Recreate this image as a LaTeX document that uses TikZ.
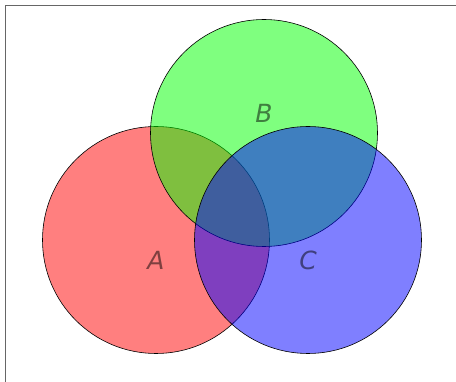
\documentclass[tikz,border=0pt]{standalone}
\usepackage{fontspec}
\setsansfont{DejaVu Sans}
\usetikzlibrary{positioning}

\begin{document}
\begin{tikzpicture}[x=1pt,y=-1pt,
  set/.style={circle,draw=black,line width=0.6pt,fill opacity=0.5,minimum size=227pt,inner sep=0pt},
  lbl/.style={font=\sffamily\itshape\fontsize{25}{30}\selectfont,text=black,text opacity=0.5,inner sep=0pt}]
\useasboundingbox (0,0) rectangle (456,382);
\draw[black!60,line width=1.8pt] (5.5,400) -- (5.5,5.5) -- (470,5.5);
\node[set,fill=red] (a) at (156,240) {};
\node[set,fill=green] (b) at (264,133) {};
\node[set,fill=blue] (c) at (308,240) {};
\node[lbl,below=20pt of a.center,anchor=center] (la) {A};
\node[lbl,above=20pt of b.center,anchor=center] (lb) {B};
\node[lbl,below=20pt of c.center,anchor=center] (lc) {C};
\end{tikzpicture}
\end{document}
